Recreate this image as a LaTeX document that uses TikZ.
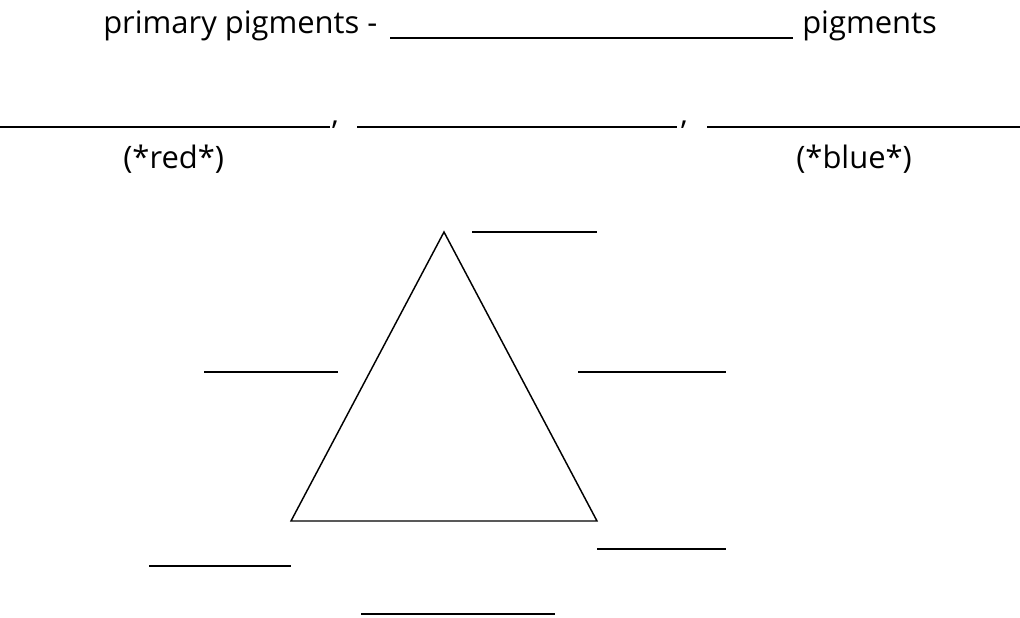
\documentclass[tikz,border=0pt]{standalone}
\usepackage{fontspec}
\setmainfont{Open Sans}
\usepackage{tikz}
\usetikzlibrary{positioning}

\begin{document}
\begin{tikzpicture}[
  x=0.75pt, y=-0.75pt,
  font=\fontsize{23.2pt}{27pt}\selectfont,
  txt/.style={inner sep=0pt, anchor=base west},
  blank/.style={line width=1.5pt},
  tri/.style={line width=1.1pt, line join=miter},
]
\useasboundingbox[fill=white] (0,0) rectangle (1020,617);

% 第一行：标题与填空
\node[txt] (head) at (103,34) {primary pigments -};
\node[txt] (tail) at (802,34) {pigments};
\draw[blank] (390,38) -- (793,38);

% 第二行：三个填空
\draw[blank] (0,127) -- (330,127);
\node[txt] (c1) at (331,124) {,};
\draw[blank] (357,127) -- (677,127);
\node[txt] (c2) at (680,124) {,};
\draw[blank] (707,127) -- (1020,127);
\node[txt] (red) at (123,168) {(*red*)};
\node[txt] (blue) at (796,168) {(*blue*)};

% 三角形
\coordinate (apex) at (444,232);
\coordinate (bl) at (291,521);
\coordinate (br) at (597,521);
\draw[tri] (apex) -- (br) -- (bl) -- cycle;

% 三角形周围的填空
\draw[tri] (472,232) -- (597,232);
\draw[tri] (204,372) -- (338,372);
\draw[tri] (578,372) -- (726,372);
\draw[tri] (597,549) -- (726,549);
\draw[tri] (149,566) -- (291,566);
\draw[tri] (361,614) -- (555,614);
\end{tikzpicture}
\end{document}
